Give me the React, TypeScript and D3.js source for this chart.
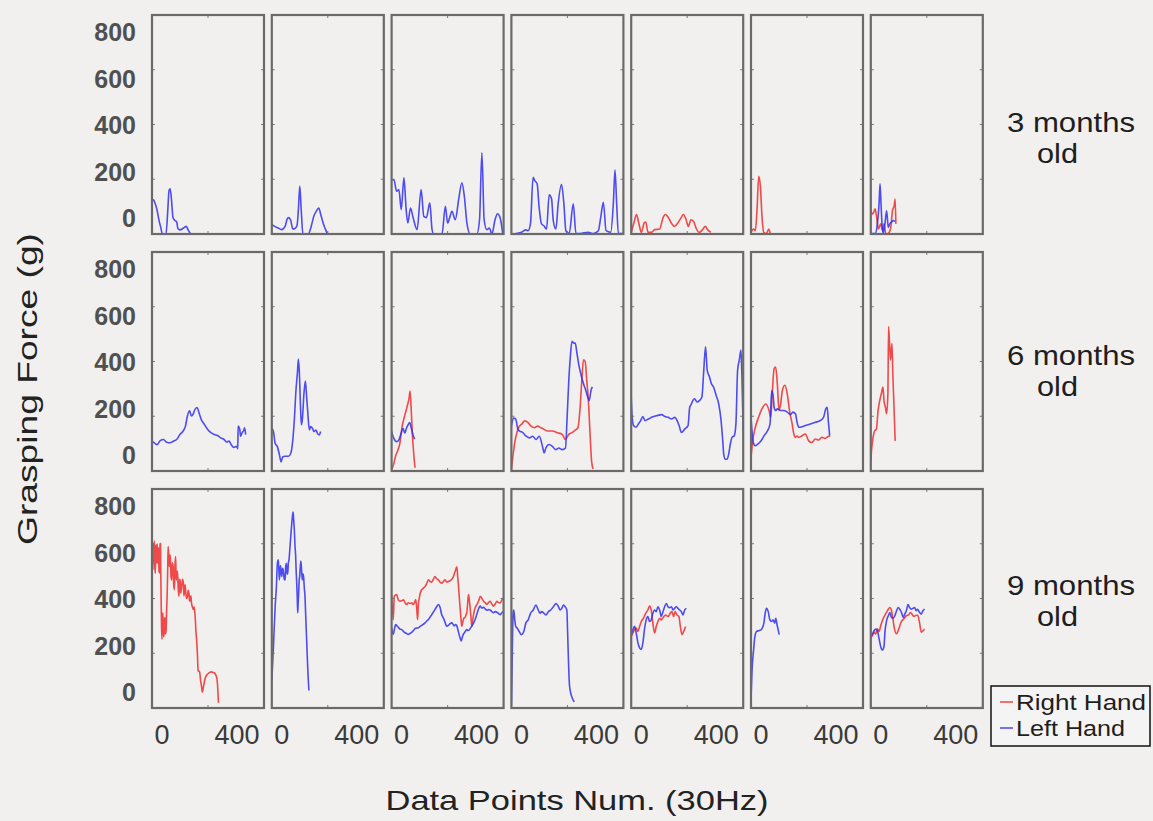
import React from "react";
import * as d3 from "d3";

// ---- data (grasping force in g, sampled at 30Hz) ----
type Pt = [number, number];

const ageLabels = ["3 months", "6 months", "9 months"];
const yTicks = [0, 200, 400, 600, 800];
const xTicks = [0, 400];
const seriesNames = ["Right Hand", "Left Hand"];

// 3 months old
const m3c1Left: Pt[] = [[0,120],[10,125],[20,115],[35,90],[50,50],[62,25],[75,0],[100,0],[112,80],[122,160],[130,165],[140,120],[150,60],[162,50],[176,45],[185,20],[200,15],[225,22],[245,28],[258,15],[270,5],[280,0]];
const m3c2Left: Pt[] = [[0,35],[20,28],[45,22],[70,16],[95,28],[110,55],[120,60],[135,50],[150,18],[165,20],[180,30],[190,90],[200,175],[210,90],[222,0],[260,0],[280,25],[300,65],[320,85],[336,95],[350,70],[370,35],[385,15],[398,0]];
const m3c3Left: Pt[] = [[0,199],[17,197],[36,156],[52,162],[69,89],[88,205],[104,89],[116,40],[135,95],[154,59],[182,16],[211,162],[230,64],[249,60],[273,114],[289,16],[301,0],[360,0],[384,101],[400,40],[415,60],[431,83],[455,52],[479,126],[502,187],[519,140],[538,40],[562,0],[609,0],[628,52],[645,297],[661,52],[680,16],[699,22],[716,0],[739,52],[756,74],[775,59],[794,0]];
const m3c4Left: Pt[] = [[0,0],[36,2],[72,6],[103,15],[119,12],[136,37],[155,207],[167,195],[184,183],[198,98],[215,37],[232,30],[251,18],[270,143],[287,128],[299,49],[318,18],[334,110],[358,181],[375,110],[389,12],[413,2],[442,110],[461,2],[490,2],[549,6],[585,2],[621,12],[638,61],[657,116],[676,12],[709,6],[728,110],[740,234],[752,110],[764,2],[800,2]];
const m3c5Right: Pt[] = [[0,4],[19,40],[38,71],[54,40],[73,6],[92,40],[104,44],[120,6],[144,6],[168,16],[203,18],[227,59],[243,71],[267,59],[286,40],[309,28],[333,40],[356,59],[373,71],[392,52],[408,28],[427,52],[446,46],[463,22],[486,6],[510,16],[529,28],[545,16],[569,6]];
const m3c6Right: Pt[] = [[0,6],[19,18],[31,12],[43,89],[55,211],[67,175],[79,60],[91,6],[110,2],[127,18],[139,2],[151,0]];
const m3c7Right: Pt[] = [[0,85],[14,73],[31,92],[42,61],[54,18],[71,37],[85,12],[94,37],[108,0],[125,2],[141,18],[155,85],[167,104],[174,128],[179,37]];
const m3c7Left: Pt[] = [[0,2],[31,2],[47,37],[59,110],[66,183],[73,110],[80,37],[89,2],[101,37],[113,85],[125,24],[136,37],[148,43],[160,49],[172,46]];

// 6 months old
const m6c1Left: Pt[] = [[0,109],[19,102],[35,96],[59,111],[82,115],[105,105],[129,103],[152,109],[176,115],[199,133],[222,146],[239,164],[253,201],[269,220],[281,201],[293,207],[304,222],[323,232],[335,214],[351,189],[374,170],[398,152],[421,140],[445,133],[468,130],[491,121],[515,115],[534,106],[550,109],[566,96],[585,86],[604,90],[613,81],[615,164],[627,152],[632,127],[644,140],[655,148],[662,158],[669,133]];
const m6c2Left: Pt[] = [[0,156],[12,144],[24,101],[40,89],[55,58],[66,33],[78,52],[95,54],[119,54],[135,64],[150,113],[161,187],[173,298],[183,359],[190,409],[197,359],[204,249],[211,169],[218,187],[230,286],[240,329],[249,270],[259,199],[268,150],[278,162],[290,156],[301,144],[316,150],[328,135],[339,132],[349,144]];
const m6c3Right: Pt[] = [[0,5],[16,27],[28,54],[45,76],[59,101],[75,162],[92,199],[111,236],[125,267],[132,292],[139,236],[148,138],[158,64],[167,12]];
const m6c3Left: Pt[] = [[0,144],[16,119],[35,107],[52,113],[68,138],[82,156],[94,138],[106,156],[118,169],[129,177],[141,156],[153,132],[165,116]];
const m6c4Right: Pt[] = [[0,4],[12,59],[30,121],[54,161],[77,173],[94,183],[117,178],[140,164],[164,158],[187,164],[211,158],[234,152],[257,146],[293,146],[328,140],[363,134],[386,115],[410,134],[433,140],[456,149],[475,158],[491,233],[503,332],[515,406],[527,400],[538,332],[550,257],[562,134],[573,35],[583,7]];
const m6c4Left: Pt[] = [[0,165],[16,193],[30,190],[47,152],[59,146],[82,140],[105,127],[129,121],[152,127],[176,115],[199,127],[222,90],[234,66],[246,84],[269,97],[293,90],[316,78],[339,84],[363,78],[386,84],[398,196],[410,332],[421,418],[433,474],[445,467],[456,467],[468,431],[484,381],[498,350],[515,319],[531,295],[545,270],[555,257],[569,295],[578,307]];
const m6c5Left: Pt[] = [[0,270],[7,196],[17,166],[35,160],[52,172],[68,184],[83,199],[99,184],[123,190],[146,196],[182,202],[217,206],[241,199],[264,196],[288,190],[312,196],[328,184],[342,166],[359,141],[382,153],[406,166],[418,233],[430,245],[441,258],[453,264],[470,252],[489,258],[505,270],[517,356],[531,454],[543,368],[559,344],[573,319],[588,307],[607,276],[625,245],[642,184],[654,110],[661,61],[673,43],[684,43],[696,61],[708,98],[720,123],[736,129],[748,172],[760,368],[772,405],[784,442],[791,344],[800,147]];
const m6c6Right: Pt[] = [[0,49],[12,110],[31,160],[54,196],[78,227],[106,245],[129,221],[141,196],[153,294],[165,374],[176,380],[188,319],[200,221],[212,245],[224,294],[242,313],[259,282],[275,221],[294,172],[306,135],[318,123],[329,128],[341,123],[365,129],[388,135],[412,110],[435,104],[459,117],[482,113],[506,123],[529,119],[548,125],[565,129]];
const m6c6Left: Pt[] = [[0,196],[7,147],[16,104],[31,92],[47,98],[71,110],[94,129],[118,147],[136,172],[148,294],[158,276],[165,233],[176,221],[188,227],[212,221],[235,221],[259,215],[282,206],[299,215],[318,208],[329,178],[341,160],[365,162],[388,166],[424,172],[459,178],[494,184],[518,196],[534,227],[544,233],[553,178],[562,129]];
const m6c7Right: Pt[] = [[0,37],[5,74],[16,123],[28,147],[40,153],[52,221],[64,258],[75,282],[87,307],[94,258],[104,233],[113,209],[122,282],[127,528],[134,466],[141,405],[151,466],[158,344],[165,245],[174,110]];

// 9 months old
const m9c1Right: Pt[] = [[0,601],[4,540],[7,505],[10,600],[14,560],[17,610],[20,520],[24,492],[27,590],[31,595],[34,530],[37,600],[40,529],[44,585],[47,577],[50,500],[54,492],[57,600],[61,601],[63,480],[66,372],[68,300],[71,251],[74,320],[78,348],[82,260],[87,275],[90,330],[94,323],[97,270],[101,287],[104,350],[108,408],[112,500],[115,590],[118,571],[122,530],[125,517],[128,560],[132,541],[136,480],[141,468],[145,530],[151,517],[155,450],[160,432],[164,520],[169,553],[172,480],[176,468],[180,500],[184,480],[188,430],[193,408],[196,470],[200,468],[205,420],[212,444],[218,470],[224,456],[228,410],[231,420],[236,450],[240,432],[246,400],[254,408],[258,430],[264,420],[268,390],[273,396],[278,410],[282,384],[288,370],[294,360],[300,370],[306,348],[310,320],[313,287],[317,260],[320,239],[323,210],[325,191],[327,160],[329,136],[335,135],[341,130],[347,100],[353,82],[357,65],[360,58],[365,70],[369,82],[378,105],[388,118],[400,125],[412,130],[425,132],[435,130],[445,128],[452,124],[458,118],[464,106],[468,85],[471,58],[475,19]];
const m9c2Left: Pt[] = [[0,100],[12,227],[24,372],[33,444],[40,529],[47,541],[54,468],[62,520],[71,480],[77,510],[83,500],[89,470],[95,468],[100,520],[104,529],[109,490],[114,490],[118,530],[123,541],[130,589],[137,637],[142,670],[147,698],[152,716],[156,690],[161,650],[166,590],[170,560],[174,500],[178,456],[182,400],[185,348],[188,380],[192,420],[196,470],[199,480],[204,520],[208,537],[213,500],[218,468],[222,490],[227,480],[232,440],[237,408],[242,340],[246,287],[251,220],[256,154],[260,110],[265,64]];
const m9c3Right: Pt[] = [[0,414],[12,323],[19,408],[36,414],[48,395],[60,390],[72,392],[84,395],[96,385],[107,378],[119,384],[131,382],[143,384],[155,378],[167,390],[172,396],[180,360],[186,323],[191,380],[196,396],[205,420],[215,432],[227,438],[239,444],[251,455],[263,468],[275,462],[287,460],[298,470],[310,480],[322,472],[334,468],[346,460],[358,456],[370,462],[382,468],[394,460],[406,462],[418,465],[430,470],[440,478],[449,492],[458,505],[466,516],[472,480],[478,444],[484,400],[490,360],[497,320],[501,299],[507,310],[513,323],[519,330],[525,330],[531,340],[537,348],[543,380],[549,414],[555,395],[561,366],[567,330],[573,299],[579,320],[585,340],[591,355],[597,366],[606,375],[616,384],[624,395],[633,408],[645,400],[657,390],[669,385],[681,378],[692,385],[704,390],[716,380],[728,372],[740,380],[752,390],[764,385],[776,384],[788,395],[800,402]];
const m9c3Left: Pt[] = [[0,293],[12,269],[19,285],[29,305],[38,300],[48,295],[60,288],[72,287],[84,280],[96,275],[107,272],[119,269],[131,272],[143,276],[155,282],[167,290],[180,292],[191,293],[203,298],[215,302],[227,306],[239,311],[251,318],[263,323],[275,332],[287,341],[298,350],[310,360],[322,370],[334,378],[346,368],[358,341],[366,332],[375,323],[384,310],[394,299],[406,302],[418,308],[430,311],[440,305],[449,300],[458,305],[466,300],[474,285],[482,269],[490,255],[497,245],[503,255],[509,265],[515,272],[521,275],[529,282],[537,287],[545,283],[554,285],[561,290],[573,299],[585,310],[597,323],[606,338],[616,354],[624,366],[633,372],[645,365],[657,368],[669,362],[681,357],[692,360],[704,358],[716,352],[728,348],[740,352],[752,350],[764,345],[776,341],[788,348],[800,354]];
const m9c4Left: Pt[] = [[0,10],[5,154],[12,346],[17,358],[24,322],[31,298],[41,292],[55,280],[72,268],[89,280],[103,310],[120,322],[137,346],[156,358],[175,376],[192,358],[204,346],[216,352],[233,346],[247,340],[264,352],[281,358],[300,370],[319,382],[336,370],[348,358],[360,364],[372,376],[384,370],[396,358],[401,286],[408,166],[415,82],[425,52],[437,34],[449,22]];
const m9c5Right: Pt[] = [[0,262],[12,274],[24,286],[36,292],[48,280],[60,298],[72,316],[88,328],[103,346],[119,358],[131,372],[143,358],[155,310],[167,274],[179,298],[191,316],[203,328],[215,322],[227,330],[246,340],[263,334],[279,346],[291,352],[303,334],[313,352],[327,340],[341,334],[351,298],[363,268],[375,280],[389,298]];
const m9c5Left: Pt[] = [[0,268],[12,286],[24,298],[36,274],[48,238],[60,220],[72,214],[84,240],[96,292],[107,322],[119,334],[131,316],[143,322],[155,346],[167,358],[179,352],[191,370],[203,358],[215,334],[227,352],[239,370],[251,382],[263,370],[275,366],[287,370],[299,358],[310,364],[322,370],[334,364],[346,358],[358,352],[370,340],[382,358],[394,364]];
const m9c6Left: Pt[] = [[0,30],[9,154],[17,202],[28,262],[40,280],[59,283],[76,288],[92,310],[101,346],[111,364],[123,352],[135,322],[146,316],[158,322],[170,310],[177,328],[186,304],[194,286],[201,268]];
const m9c7Right: Pt[] = [[0,259],[12,265],[24,277],[35,270],[47,289],[59,280],[71,301],[82,319],[99,337],[118,355],[136,367],[148,355],[158,325],[169,289],[184,271],[200,289],[216,313],[235,325],[254,337],[271,340],[282,349],[294,343],[306,335],[318,337],[334,340],[348,313],[360,277],[372,282],[384,289]];
const m9c7Left: Pt[] = [[0,265],[12,270],[24,283],[35,288],[47,283],[59,253],[71,224],[82,212],[94,224],[101,277],[113,319],[125,337],[136,349],[148,331],[160,328],[172,337],[184,355],[195,367],[207,361],[219,349],[231,331],[242,343],[254,355],[266,378],[278,366],[289,361],[301,364],[313,367],[325,355],[334,361],[348,349],[360,343],[372,355],[384,361]];

// [right hand, left hand] per panel, rows by age
const panels: (Pt[] | null)[][][] = [
  [[null, m3c1Left], [null, m3c2Left], [null, m3c3Left], [null, m3c4Left], [m3c5Right, null], [m3c6Right, null], [m3c7Right, m3c7Left]],
  [[null, m6c1Left], [null, m6c2Left], [m6c3Right, m6c3Left], [m6c4Right, m6c4Left], [null, m6c5Left], [m6c6Right, m6c6Left], [m6c7Right, null]],
  [[m9c1Right, null], [null, m9c2Left], [m9c3Right, m9c3Left], [null, m9c4Left], [m9c5Right, m9c5Left], [null, m9c6Left], [m9c7Right, m9c7Left]],
];

// ---- layout ----
const W = 1153;
const H = 821;
const PANEL_LEFT0 = 152;
const PANEL_STEP = 119.8;
const PANEL_W = 112;
const ROW_TOP0 = 15;
const ROW_STEP = 237;
const PANEL_H = 219;
const ageLabelY = [122, 355, 585];
const colors = ["#ee2b2b", "#2f2ff0"];
const FONT = "'Liberation Sans', Arial, sans-serif";

export default function App() {
  const lastRow = panels.length - 1;
  return (
    <svg width={W} height={H} style={{ position: "absolute", left: 0, top: 0 }} fontFamily={FONT}>
      <rect width={W} height={H} fill="#f1f0ef" />
      {panels.map((row, r) => {
        const top = ROW_TOP0 + r * ROW_STEP;
        const bottom = top + PANEL_H;
        const y = d3.scaleLinear().domain([0, 800]).range([bottom, top]);
        const yLabel = d3.scaleLinear().domain([0, 800]).range([top + 203, top + 17]);
        return (
          <g key={r}>
            {yTicks.map((t) => (
              <text key={t} x={136} y={yLabel(t)} textAnchor="end" dominantBaseline="central"
                fontSize={25} fontWeight="bold" fill="#505050">{t}</text>
            ))}
            {row.map((traces, c) => {
              const left = PANEL_LEFT0 + c * PANEL_STEP;
              const x = d3.scaleLinear().domain([0, 800]).range([left, left + PANEL_W]);
              const line = d3.line<Pt>().x((d) => x(d[0])).y((d) => y(d[1])).curve(d3.curveMonotoneX);
              const clipId = `clip-${r}-${c}`;
              const xLabel = d3.scaleLinear().domain([0, 400]).range([left + 10, left + 85]);
              return (
                <g key={c}>
                  <clipPath id={clipId}>
                    <rect x={left} y={top} width={PANEL_W} height={PANEL_H} />
                  </clipPath>
                  <g clipPath={`url(#${clipId})`}>
                    {traces.map((tr, k) => tr && (
                      <path key={k} d={line(tr) || ""} fill="none" stroke={colors[k]}
                        strokeWidth={1.6} strokeOpacity={0.85} strokeLinejoin="round" />
                    ))}
                  </g>
                  {[200, 400, 600].map((t) => (
                    <g key={t} stroke="#777" strokeWidth={1}>
                      <line x1={left} x2={left + 3} y1={y(t)} y2={y(t)} />
                      <line x1={left + PANEL_W - 3} x2={left + PANEL_W} y1={y(t)} y2={y(t)} />
                    </g>
                  ))}
                  <g stroke="#777" strokeWidth={1}>
                    <line x1={x(400)} x2={x(400)} y1={top} y2={top + 3} />
                    <line x1={x(400)} x2={x(400)} y1={bottom - 3} y2={bottom} />
                  </g>
                  <rect x={left} y={top} width={PANEL_W} height={PANEL_H} fill="none"
                    stroke="#6a6a6a" strokeWidth={2.2} />
                  {r === lastRow && xTicks.map((t) => (
                    <text key={t} x={xLabel(t)} y={735} textAnchor="middle" dominantBaseline="central"
                      fontSize={27} fill="#3a3a3a">{t}</text>
                  ))}
                </g>
              );
            })}
            <text x={1007} y={ageLabelY[r]} dominantBaseline="central" fontSize={28} fill="#1e1e1e"
              textLength={128} lengthAdjust="spacingAndGlyphs">{ageLabels[r]}</text>
            <text x={1037} y={ageLabelY[r] + 31} dominantBaseline="central" fontSize={28} fill="#1e1e1e"
              textLength={41} lengthAdjust="spacingAndGlyphs">old</text>
          </g>
        );
      })}

      {/* axis titles */}
      <text transform="translate(27,389) rotate(-90)" textAnchor="middle" dominantBaseline="central"
        fontSize={28} fill="#222" textLength={312} lengthAdjust="spacingAndGlyphs">Grasping Force (g)</text>
      <text x={577} y={800} textAnchor="middle" dominantBaseline="central" fontSize={28} fill="#222"
        textLength={383} lengthAdjust="spacingAndGlyphs">Data Points Num. (30Hz)</text>

      {/* legend */}
      <g>
        <rect x={991} y={686} width={159} height={60} fill="#f4f4f4" stroke="#111" strokeWidth={1.5} />
        {seriesNames.map((name, i) => (
          <g key={name}>
            <line x1={1000} x2={1013} y1={702 + i * 26} y2={702 + i * 26} stroke={colors[i]} strokeWidth={1.3} />
            <text x={1016} y={702 + i * 26} dominantBaseline="central" fontSize={22} fill="#1e1e1e"
              textLength={i === 0 ? 130 : 109} lengthAdjust="spacingAndGlyphs">{name}</text>
          </g>
        ))}
      </g>
    </svg>
  );
}
